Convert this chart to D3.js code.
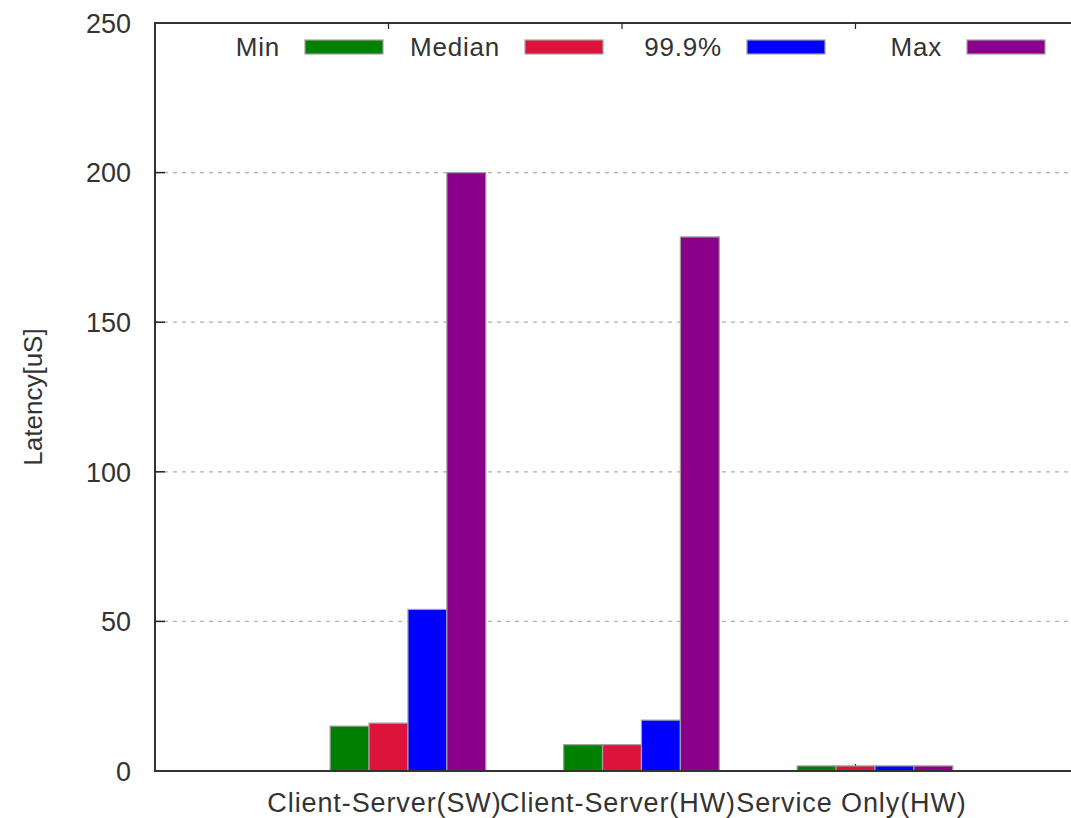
<!DOCTYPE html>
<html>
<head>
<meta charset="utf-8">
<script src="https://cdn.jsdelivr.net/npm/d3@7"></script>
<style>
  html, body { margin: 0; padding: 0; background: #fff; }
  svg { display: block; }
  text { font-family: "Liberation Sans", Arial, sans-serif; fill: #333; }
</style>
</head>
<body>
<svg id="chart" width="1071" height="818"></svg>
<script>
// Latency per deployment scenario, in microseconds
const categories = ["Client-Server(SW)", "Client-Server(HW)", "Service Only(HW)"];
const seriesNames = ["Min", "Median", "99.9%", "Max"];
const minValues    = [15, 8.8, 1.7];
const medianValues = [16, 8.8, 1.7];
const p999Values   = [54, 17, 1.7];
const maxValues    = [200, 178.5, 1.7];
const seriesColors = ["#008000", "#dc143c", "#0000ff", "#8b008b"];
const yTicks = [0, 50, 100, 150, 200, 250];

const series = [minValues, medianValues, p999Values, maxValues];

const svg = d3.select("#chart");
const plotLeft = 155, plotTop = 23, plotBottom = 771;
const unit = 233.5;

// categories sit at x = 0, 1, 2 on a numeric axis running from -1 to 3
const x = d3.scaleLinear().domain([-1, 3]).range([plotLeft, plotLeft + 4 * unit]);
const y = d3.scaleLinear().domain([0, 250]).range([plotBottom, plotTop]);

const nSeries = series.length;
const gap = 2;
const barW = 1 / (nSeries + gap);
const clusterStart = -0.25;

// dotted horizontal grid
svg.append("g")
  .selectAll("line")
  .data(yTicks.filter(t => t > 0 && t < 250))
  .join("line")
  .attr("x1", plotLeft).attr("x2", 1071)
  .attr("y1", d => y(d)).attr("y2", d => y(d))
  .attr("stroke", "#b0b0b0")
  .attr("stroke-width", 1.3)
  .attr("stroke-dasharray", "4,5");

// bottom tick marks (mostly covered by the bars)
svg.append("g")
  .selectAll("line")
  .data(categories.map((c, i) => i))
  .join("line")
  .attr("x1", d => x(d)).attr("x2", d => x(d))
  .attr("y1", plotBottom).attr("y2", plotBottom - 7)
  .attr("stroke", "#222").attr("stroke-width", 1.2);

// clustered bars
const bars = [];
series.forEach((vals, j) => {
  vals.forEach((v, i) => bars.push({ i, j, v }));
});
svg.append("g")
  .selectAll("rect")
  .data(bars)
  .join("rect")
  .attr("x", d => x(d.i + clusterStart + d.j * barW))
  .attr("width", d => x(d.i + clusterStart + (d.j + 1) * barW) - x(d.i + clusterStart + d.j * barW))
  .attr("y", d => y(d.v))
  .attr("height", d => y(0) - y(d.v))
  .attr("fill", d => seriesColors[d.j])
  .attr("stroke", "#a0a0a0")
  .attr("stroke-width", 1.2);

// frame: left, top and bottom lines
const frame = svg.append("g").attr("stroke", "#333").attr("stroke-width", 2).attr("fill", "none");
frame.append("line").attr("x1", plotLeft).attr("x2", plotLeft).attr("y1", plotTop - 1).attr("y2", plotBottom + 1);
frame.append("line").attr("x1", plotLeft).attr("x2", 1071).attr("y1", plotTop).attr("y2", plotTop);
frame.append("line").attr("x1", plotLeft).attr("x2", 1071).attr("y1", plotBottom).attr("y2", plotBottom);

// top mirror ticks
svg.append("g")
  .selectAll("line")
  .data(categories.map((c, i) => i))
  .join("line")
  .attr("x1", d => x(d)).attr("x2", d => x(d))
  .attr("y1", plotTop).attr("y2", plotTop + 6)
  .attr("stroke", "#222").attr("stroke-width", 1.2);

// y axis ticks and labels
const yAxis = svg.append("g");
yAxis.selectAll("line")
  .data(yTicks.filter(t => t > 0 && t < 250))
  .join("line")
  .attr("x1", plotLeft).attr("x2", plotLeft + 10)
  .attr("y1", d => y(d)).attr("y2", d => y(d))
  .attr("stroke", "#222").attr("stroke-width", 1.5);
yAxis.selectAll("text")
  .data(yTicks)
  .join("text")
  .attr("x", 131)
  .attr("y", d => y(d))
  .attr("dy", "0.36em")
  .attr("text-anchor", "end")
  .style("font-size", "27px")
  .text(d => d);

// category labels
svg.append("g")
  .selectAll("text")
  .data(categories)
  .join("text")
  .attr("x", (d, i) => x(i) - 4)
  .attr("y", 812)
  .attr("text-anchor", "middle")
  .style("font-size", "27px")
  .style("letter-spacing", "0.9px")
  .text(d => d);

// y axis title
svg.append("text")
  .attr("transform", `translate(42,${(plotTop + plotBottom) / 2}) rotate(-90)`)
  .attr("text-anchor", "middle")
  .style("font-size", "26px")
  .text("Latency[uS]");

// legend across the top of the plot
const legendX = [280, 500, 722, 942];
const legend = svg.append("g")
  .selectAll("g")
  .data(seriesNames)
  .join("g")
  .attr("transform", (d, i) => `translate(${legendX[i]},47)`);
legend.append("text")
  .attr("text-anchor", "end")
  .attr("dy", "0.36em")
  .style("font-size", "26px")
  .style("letter-spacing", "0.8px")
  .text(d => d);
legend.append("rect")
  .attr("x", 25).attr("y", -7)
  .attr("width", 78).attr("height", 14)
  .attr("fill", (d, i) => seriesColors[i])
  .attr("stroke", "#a0a0a0")
  .attr("stroke-width", 1.2);
</script>
</body>
</html>
